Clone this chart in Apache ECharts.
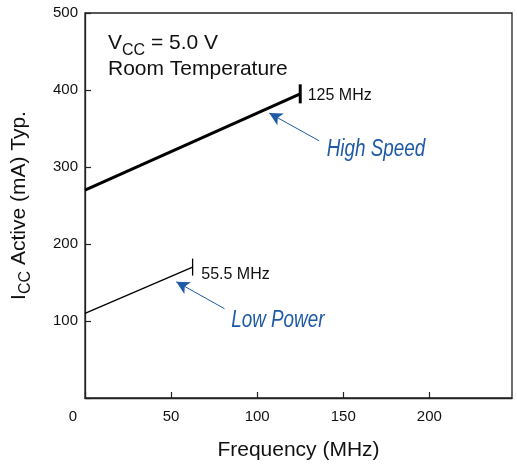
<!DOCTYPE html>
<html>
<head>
<meta charset="utf-8">
<script src="https://cdn.jsdelivr.net/npm/echarts@6/dist/echarts.min.js"></script>
<style>html,body{margin:0;padding:0;background:#fff}#c{width:517px;height:464px}</style>
</head>
<body>
<div id="c"></div>
<script>
// ---- data ----
const xTicks = [0, 50, 100, 150, 200];
const yTicks = [100, 200, 300, 400, 500];
const hsFreq = [0, 125];
const hsIcc = [270, 395];
const lpFreq = [0, 62.5];
const lpIcc = [110, 170];
const hsEndLabel = '125 MHz';
const lpEndLabel = '55.5 MHz';
const hsName = 'High Speed';
const lpName = 'Low Power';
// annotation anchors (data coords): arrow tail, arrow head, text centre
const hsArrow = [[136, 334], [107, 370]];
const lpArrow = [[81, 116], [53, 151]];
const hsTextAt = [169, 323];
const lpTextAt = [112, 100];

const FONT = "'Liberation Sans', Arial, Helvetica, sans-serif";
const BLUE = '#1f5aa8';

function pts(xs, ys) { return xs.map((x, i) => [x, ys[i]]); }
function withEnd(xs, ys, size) {
  const p = pts(xs, ys);
  return p.map((v, i) => i === p.length - 1
    ? { value: v, symbol: 'rect', symbolSize: size }
    : { value: v, symbol: 'none' });
}

const chart = echarts.init(document.getElementById('c'), null, { renderer: 'canvas' });
chart.setOption({
  animation: false,
  backgroundColor: '#fff',
  grid: { left: 85, right: 5, top: 13, bottom: 66, show: true, borderColor: '#222', borderWidth: 1.3,
          containLabel: false, outerBoundsMode: 'none' },
  xAxis: {
    type: 'value', min: 0, max: 248, interval: 50,
    name: 'Frequency (MHz)', nameLocation: 'middle', nameGap: 42,
    nameTextStyle: { fontFamily: FONT, fontSize: 21, color: '#111' },
    axisLine: { show: true, lineStyle: { color: '#222', width: 1.3 } },
    axisTick: { show: true, inside: true, length: 6, lineStyle: { color: '#222', width: 1.2 } },
    splitLine: { show: false },
    axisLabel: {
      showMaxLabel: false, margin: 11,
      fontFamily: FONT, fontSize: 15, color: '#111',
      formatter: v => xTicks.indexOf(v) < 0 ? '' : (v === 0 ? '{z|0}' : String(v)),
      rich: { z: { fontFamily: FONT, fontSize: 15, color: '#111', padding: [0, 24, 0, 0] } }
    }
  },
  yAxis: {
    type: 'value', min: 0, max: 500, interval: 100,
    name: 'I{sub|CC} Active (mA) Typ.', nameLocation: 'middle', nameGap: 51,
    nameTextStyle: {
      fontFamily: FONT, fontSize: 21, color: '#111',
      rich: {
        sub: { fontFamily: FONT, fontSize: 16, color: '#111', verticalAlign: 'bottom', lineHeight: 30 }
      }
    },
    axisLine: { show: true, lineStyle: { color: '#222', width: 1.3 } },
    axisTick: { show: true, inside: true, length: 6, lineStyle: { color: '#222', width: 1.2 } },
    splitLine: { show: false },
    axisLabel: {
      margin: 7, fontFamily: FONT, fontSize: 15, color: '#111',
      formatter: v => yTicks.indexOf(v) < 0 ? '' : String(v)
    }
  },
  series: [
    {
      name: hsName, type: 'line', data: withEnd(hsFreq, hsIcc, [3, 19]),
      lineStyle: { color: '#000', width: 3 }, itemStyle: { color: '#000' },
      label: {
        show: true, position: 'right', distance: 6, offset: [0, 2],
        formatter: p => p.dataIndex === hsFreq.length - 1 ? hsEndLabel : '',
        fontFamily: FONT, fontSize: 16, color: '#111'
      },
      silent: true,
      markLine: {
        silent: true, symbol: ['none', 'arrow'], symbolSize: [10, 13],
        label: { show: false },
        lineStyle: { color: BLUE, width: 1, type: 'solid' },
        data: [[{ coord: hsArrow[0] }, { coord: hsArrow[1] }]]
      }
    },
    {
      name: lpName, type: 'line', data: withEnd(lpFreq, lpIcc, [1.3, 17]),
      lineStyle: { color: '#000', width: 1.3 }, itemStyle: { color: '#000' },
      label: {
        show: true, position: 'right', distance: 8, offset: [0, 7],
        formatter: p => p.dataIndex === lpFreq.length - 1 ? lpEndLabel : '',
        fontFamily: FONT, fontSize: 16, color: '#111'
      },
      silent: true,
      markLine: {
        silent: true, symbol: ['none', 'arrow'], symbolSize: [10, 13],
        label: { show: false },
        lineStyle: { color: BLUE, width: 1, type: 'solid' },
        data: [[{ coord: lpArrow[0] }, { coord: lpArrow[1] }]]
      }
    }
  ]
});

// annotation texts placed through the chart's own coordinate conversion
function noteText(name, at) {
  const p = chart.convertToPixel({ gridIndex: 0 }, at);
  return {
    type: 'text', x: p[0], y: p[1], scaleX: 0.82, silent: true,
    style: {
      text: name, fill: BLUE, align: 'center', verticalAlign: 'middle',
      font: 'italic 23px ' + FONT
    }
  };
}
chart.setOption({
  graphic: [
    {
      type: 'text', left: 108, top: 33, silent: true,
      style: {
        text: 'V{s|CC} = 5.0 V',
        font: '21px ' + FONT, fill: '#111',
        rich: { s: { fontFamily: FONT, fontSize: 16, fill: '#111', verticalAlign: 'bottom', lineHeight: 30 } }
      }
    },
    {
      type: 'text', left: 108, top: 59, silent: true,
      style: { text: 'Room Temperature', font: '21px ' + FONT, fill: '#111' }
    },
    noteText(hsName, hsTextAt),
    noteText(lpName, lpTextAt)
  ]
});
</script>
</body>
</html>
